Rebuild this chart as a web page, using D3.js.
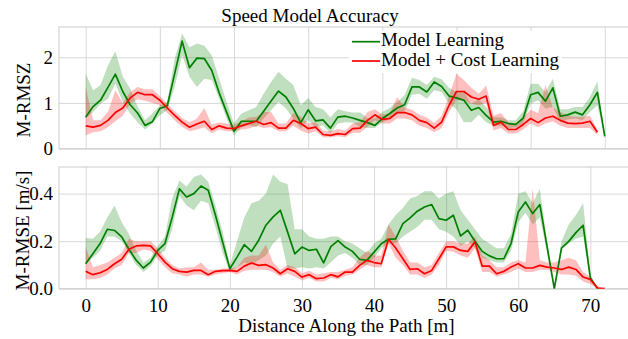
<!DOCTYPE html>
<html>
<head>
<meta charset="utf-8">
<script src="https://cdn.jsdelivr.net/npm/d3@7"></script>
<style>
body { margin: 0; background: #fff; }
text { font-family: "Liberation Serif", "Times New Roman", serif; fill: #000; }
</style>
</head>
<body>
<div id="chart"></div>
<script>
// distance along the path (samples)
var distTop = [0,1,2,3,4,5,6,7,8,9,10,11,12,13,14,15,16,17,18,19,20,21,22,23,24,25,26,27,28,29,30,31,32,33,34,35,36,37,38,39,40,41,42,43,44,45,46,47,48,49,50,51,52,53,54,55,56,57,58,59,60,61,62,63,64,65,66,67,68,69,70];
var distBottom = [0,1,2,3,4,5,6,7,8,9,10,11,12,13,14,15,16,17,18,19,20,21,22,23,24,25,26,27,28,29,30,31,32,33,34,35,36,37,38,39,40,41,42,43,44,45,46,47,48,49,50,51,52,53,54,55,56,57,58,59,60,61,62,63,64,65,66,67,68,69,70,71,72];

var xTicks = [0,10,20,30,40,50,60,70];
var rmszTicks = [0,1,2];
var rmseTicks = [0.0,0.2,0.4];

var seriesNames = ["Model Learning", "Model + Cost Learning"];

// M-RMSZ, model learning
var rmszModel = [0.69,0.92,1.06,1.34,1.63,1.25,0.96,0.78,0.51,0.59,0.88,0.94,1.64,2.35,1.77,1.98,1.97,1.71,1.22,0.80,0.38,0.60,0.60,0.60,0.82,1.04,1.26,1.13,0.88,0.57,0.85,0.61,0.63,0.45,0.69,0.71,0.67,0.62,0.57,0.51,0.66,0.77,0.89,0.96,1.35,1.35,1.24,1.46,1.36,1.15,1.11,1.06,0.84,0.90,0.73,0.58,0.60,0.55,0.53,0.67,1.18,1.23,1.04,1.33,0.71,0.74,0.80,0.74,0.96,1.23,0.27];
var rmszModelHi = [1.64,1.28,1.39,1.82,2.13,1.57,1.31,0.92,0.62,0.77,0.95,1.02,1.97,2.52,2.22,2.30,2.25,2.04,1.53,1.02,0.55,0.77,0.84,0.91,1.20,1.46,1.68,1.53,1.39,0.95,1.11,0.91,0.86,0.69,0.86,0.82,0.79,0.79,0.67,0.66,0.80,0.89,1.02,1.17,1.55,1.50,1.39,1.57,1.52,1.33,1.24,1.24,0.98,1.08,0.91,0.69,0.69,0.62,0.62,0.82,1.42,1.42,1.24,1.53,0.86,0.86,0.91,0.91,1.13,1.47,0.27];
var rmszModelLo = [0.66,0.80,0.98,1.09,1.42,1.02,0.77,0.58,0.42,0.55,0.73,0.84,1.35,2.04,1.57,1.35,1.53,1.50,1.09,0.66,0.29,0.47,0.51,0.47,0.66,0.84,1.02,0.88,0.66,0.44,0.62,0.47,0.51,0.33,0.55,0.58,0.57,0.47,0.45,0.45,0.58,0.64,0.77,0.82,1.18,1.20,1.09,1.28,1.24,0.98,0.86,0.58,0.58,0.74,0.58,0.50,0.50,0.45,0.47,0.55,0.98,1.06,0.88,0.91,0.58,0.64,0.66,0.62,0.80,0.95,0.27];

// M-RMSZ, model + cost learning
var rmszCost = [0.50,0.47,0.51,0.62,0.79,0.89,1.11,1.23,1.18,1.18,1.06,0.89,0.73,0.58,0.47,0.54,0.60,0.42,0.50,0.45,0.44,0.50,0.55,0.60,0.53,0.57,0.45,0.45,0.62,0.55,0.44,0.47,0.31,0.29,0.33,0.31,0.44,0.45,0.62,0.74,0.64,0.66,0.79,0.79,0.74,0.62,0.57,0.45,0.58,0.95,1.25,1.25,1.13,1.08,1.15,0.51,0.58,0.42,0.42,0.53,0.66,0.57,0.67,0.71,0.62,0.56,0.55,0.56,0.60,0.36];
var rmszCostHi = [1.35,0.62,0.62,0.80,1.28,1.00,1.24,1.35,1.30,1.30,1.15,0.98,0.82,0.67,0.58,0.66,0.89,0.53,0.57,0.55,0.52,0.60,0.68,0.70,0.80,0.80,0.55,0.55,0.78,0.70,0.55,0.58,0.40,0.38,0.43,0.40,0.55,0.58,0.80,0.86,0.74,0.77,1.13,0.90,0.85,0.74,0.68,0.56,0.72,1.15,1.64,1.50,1.33,1.20,1.38,0.72,0.78,0.58,0.55,0.68,0.85,0.78,1.39,0.90,0.80,0.72,0.70,0.70,0.72,0.42];
var rmszCostLo = [0.29,0.36,0.38,0.47,0.60,0.72,0.98,1.08,1.05,1.00,0.95,0.78,0.62,0.48,0.38,0.42,0.47,0.33,0.42,0.38,0.38,0.42,0.44,0.50,0.45,0.47,0.38,0.38,0.50,0.40,0.33,0.38,0.25,0.25,0.27,0.25,0.35,0.35,0.48,0.62,0.55,0.55,0.66,0.66,0.62,0.50,0.45,0.36,0.45,0.80,1.06,1.06,0.98,0.95,1.00,0.40,0.45,0.33,0.33,0.42,0.55,0.47,0.55,0.60,0.50,0.45,0.45,0.45,0.45,0.30];

// M-RMSE, model learning
var rmseModel = [0.105,0.147,0.19,0.25,0.245,0.218,0.166,0.12,0.087,0.112,0.161,0.19,0.30,0.42,0.386,0.40,0.432,0.414,0.309,0.196,0.084,0.133,0.185,0.157,0.204,0.267,0.302,0.33,0.239,0.147,0.175,0.161,0.166,0.109,0.177,0.202,0.175,0.157,0.124,0.119,0.154,0.189,0.208,0.21,0.274,0.298,0.326,0.344,0.354,0.295,0.288,0.309,0.222,0.246,0.20,0.157,0.138,0.126,0.126,0.19,0.323,0.365,0.316,0.354,0.177,0.0,0.171,0.199,0.236,0.267,0.045,0.0];
var rmseModelHi = [0.213,0.21,0.24,0.30,0.35,0.28,0.23,0.16,0.11,0.13,0.18,0.22,0.38,0.455,0.43,0.47,0.48,0.45,0.35,0.24,0.10,0.20,0.30,0.36,0.37,0.40,0.48,0.45,0.44,0.25,0.25,0.22,0.21,0.21,0.22,0.22,0.20,0.19,0.17,0.15,0.19,0.21,0.27,0.31,0.34,0.38,0.39,0.41,0.41,0.38,0.40,0.41,0.33,0.29,0.25,0.21,0.19,0.17,0.17,0.23,0.40,0.41,0.36,0.42,0.20,0.0,0.20,0.27,0.31,0.36,0.06,0.0];
var rmseModelLo = [0.105,0.13,0.16,0.22,0.22,0.20,0.15,0.10,0.07,0.095,0.14,0.16,0.25,0.39,0.35,0.33,0.37,0.36,0.26,0.15,0.07,0.09,0.11,0.10,0.12,0.14,0.19,0.22,0.085,0.085,0.09,0.085,0.09,0.085,0.11,0.14,0.15,0.13,0.10,0.10,0.13,0.17,0.19,0.19,0.22,0.24,0.26,0.29,0.29,0.25,0.24,0.22,0.18,0.20,0.17,0.13,0.12,0.11,0.11,0.16,0.28,0.32,0.27,0.30,0.15,0.0,0.17,0.19,0.21,0.22,0.03,0.0];

// M-RMSE, model + cost learning
var rmseCost = [0.073,0.059,0.067,0.081,0.105,0.124,0.166,0.18,0.182,0.18,0.147,0.112,0.084,0.073,0.07,0.077,0.077,0.059,0.073,0.076,0.077,0.073,0.095,0.108,0.098,0.101,0.087,0.063,0.084,0.073,0.049,0.059,0.042,0.045,0.059,0.05,0.07,0.07,0.098,0.119,0.11,0.105,0.208,0.171,0.126,0.081,0.084,0.063,0.077,0.126,0.176,0.176,0.161,0.157,0.197,0.095,0.095,0.063,0.073,0.091,0.105,0.087,0.087,0.098,0.091,0.087,0.081,0.091,0.081,0.049,0.039,0.003,0.0];
var rmseCostHi = [0.175,0.09,0.10,0.11,0.13,0.15,0.21,0.20,0.20,0.20,0.17,0.13,0.10,0.085,0.09,0.09,0.11,0.08,0.08,0.085,0.085,0.09,0.13,0.14,0.14,0.185,0.11,0.08,0.10,0.09,0.065,0.075,0.06,0.065,0.07,0.07,0.08,0.09,0.13,0.16,0.14,0.14,0.27,0.22,0.16,0.11,0.11,0.09,0.10,0.15,0.20,0.20,0.19,0.19,0.22,0.14,0.12,0.09,0.09,0.11,0.12,0.11,0.42,0.12,0.11,0.11,0.12,0.13,0.12,0.07,0.05,0.01,0.0];
var rmseCostLo = [0.04,0.04,0.045,0.06,0.085,0.10,0.15,0.15,0.165,0.16,0.125,0.09,0.065,0.06,0.05,0.06,0.06,0.05,0.06,0.065,0.07,0.06,0.075,0.08,0.08,0.08,0.07,0.05,0.065,0.05,0.035,0.045,0.03,0.03,0.045,0.04,0.055,0.06,0.08,0.10,0.09,0.09,0.19,0.13,0.10,0.06,0.06,0.045,0.06,0.10,0.16,0.155,0.14,0.13,0.17,0.07,0.07,0.05,0.06,0.07,0.085,0.07,0.07,0.08,0.08,0.07,0.06,0.06,0.055,0.03,0.02,0.0,0.0];

var w = 628;
var h = 339;
var fs = 19;
var green = "#008000";
var red = "#ff0000";
var gridColor = "#d9d9d9";

var svg = d3.select("#chart")
	.append("svg")
	.attr("width", w)
	.attr("height", h);

svg.append("rect").attr("width", w).attr("height", h).attr("fill", "#fff");

function pack(xs, mean, lo, hi) {
	return xs.slice(0, mean.length).map(function (d, i) {
		return { x: d, y: mean[i], lo: lo[i], hi: hi[i] };
	});
}

function panel(opt) {
	var left = 59, width = 571;
	var x = d3.scaleLinear().domain(opt.xDomain).range([left, left + width]);
	var y = d3.scaleLinear().domain(opt.yDomain).range([opt.bottom, opt.top]);
	var g = svg.append("g");

	g.append("clipPath").attr("id", opt.id)
		.append("rect")
		.attr("x", left).attr("y", opt.top)
		.attr("width", width).attr("height", opt.bottom - opt.top);

	// grid + tick labels through the axes
	var ya = g.append("g")
		.attr("transform", "translate(" + left + ",0)")
		.call(d3.axisLeft(y).tickValues(opt.yTicks).tickFormat(opt.yFormat).tickSize(-width).tickPadding(6));
	var xa = g.append("g")
		.attr("transform", "translate(0," + opt.bottom + ")")
		.call(d3.axisBottom(x).tickValues(xTicks).tickFormat(opt.xLabels ? d3.format("d") : "").tickSize(-(opt.bottom - opt.top)).tickPadding(10));
	[ya, xa].forEach(function (a) {
		a.attr("font-family", null).attr("font-size", null);
		a.select(".domain").remove();
		a.selectAll("line").attr("stroke", gridColor).attr("stroke-width", 1);
		a.selectAll("text").attr("font-size", fs);
	});

	g.append("rect")
		.attr("x", left).attr("y", opt.top)
		.attr("width", width).attr("height", opt.bottom - opt.top)
		.attr("fill", "none").attr("stroke", "#cccccc");

	var area = d3.area().x(function (d) { return x(d.x); })
		.y0(function (d) { return y(d.lo); })
		.y1(function (d) { return y(d.hi); });
	var line = d3.line().x(function (d) { return x(d.x); }).y(function (d) { return y(d.y); });

	var plot = g.append("g").attr("clip-path", "url(#" + opt.id + ")");
	opt.series.forEach(function (s) {
		plot.append("path").datum(s.data).attr("d", area)
			.attr("fill", s.color).attr("fill-opacity", 0.25);
	});
	opt.series.forEach(function (s) {
		plot.append("path").datum(s.data).attr("d", line)
			.attr("fill", "none").attr("stroke", s.color).attr("stroke-width", 1.7)
			.attr("stroke-linejoin", "round");
	});

	svg.append("text")
		.attr("transform", "translate(" + opt.labelX + "," + opt.labelY + ") rotate(-90)")
		.attr("text-anchor", "middle")
		.attr("font-size", fs)
		.text(opt.label);
}

panel({
	id: "clipTop",
	top: 27, bottom: 148.7,
	xDomain: [-3.6, 73.4], yDomain: [0, 2.66],
	yTicks: rmszTicks, yFormat: d3.format("d"), xLabels: false,
	label: "M-RMSZ", labelX: 29.5, labelY: 100,
	series: [
		{ color: green, data: pack(distTop, rmszModel, rmszModelLo, rmszModelHi) },
		{ color: red, data: pack(distTop, rmszCost, rmszCostLo, rmszCostHi) }
	]
});

panel({
	id: "clipBottom",
	top: 167, bottom: 288.7,
	xDomain: [-3.7, 75.5], yDomain: [0, 0.512],
	yTicks: rmseTicks, yFormat: d3.format(".1f"), xLabels: true,
	label: "M-RMSE [m/s]", labelX: 28.5, labelY: 230.5,
	series: [
		{ color: green, data: pack(distBottom, rmseModel, rmseModelLo, rmseModelHi) },
		{ color: red, data: pack(distBottom, rmseCost, rmseCostLo, rmseCostHi) }
	]
});

svg.append("text")
	.attr("x", 310).attr("y", 21.5)
	.attr("text-anchor", "middle")
	.attr("font-size", fs)
	.text("Speed Model Accuracy");

svg.append("text")
	.attr("x", 346.5).attr("y", 332)
	.attr("text-anchor", "middle")
	.attr("font-size", fs)
	.text("Distance Along the Path [m]");

// legend
var legend = svg.append("g");
legend.append("rect")
	.attr("x", 349).attr("y", 31).attr("width", 213).attr("height", 42)
	.attr("fill", "#fff");
[green, red].forEach(function (c, i) {
	var ly = 41.7 + i * 19.3;
	legend.append("line")
		.attr("x1", 352).attr("x2", 380).attr("y1", ly).attr("y2", ly)
		.attr("stroke", c).attr("stroke-width", 1.7);
	legend.append("text")
		.attr("x", 381).attr("y", 45.7 + i * 20)
		.attr("font-size", fs)
		.text(seriesNames[i]);
});
</script>
</body>
</html>
